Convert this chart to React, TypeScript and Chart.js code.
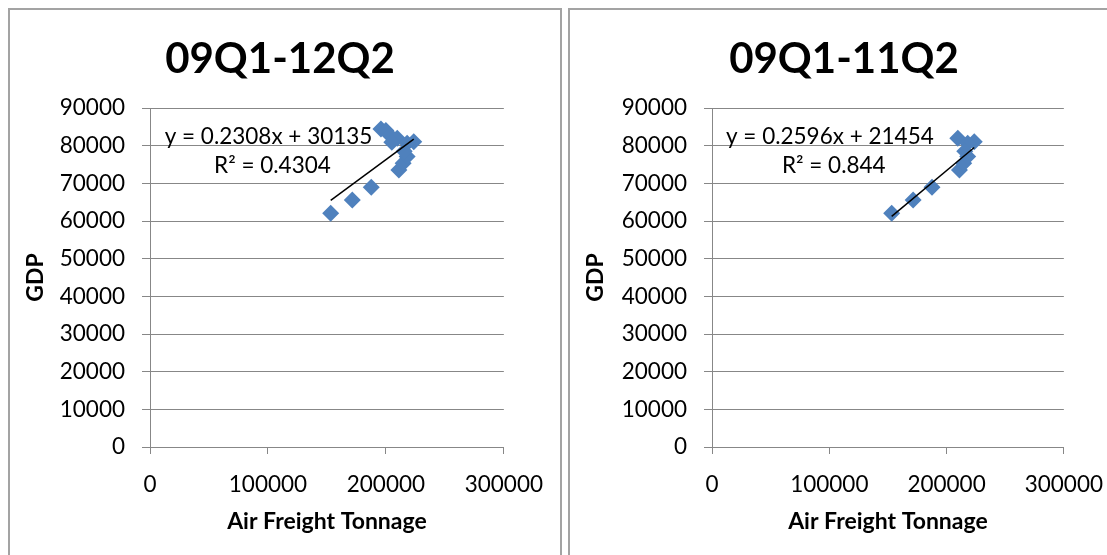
import React, { useEffect, useRef } from "react";
import { Chart, registerables } from "chart.js";

Chart.register(...registerables);

// 09Q1 - 11Q2 (shared by both panels)
const FREIGHT_09Q1_11Q2 = [153200, 171500, 187600, 211000, 214600, 218000, 223600, 209600, 218000, 215500];
const GDP_09Q1_11Q2 = [62050, 65600, 68950, 73540, 75300, 77100, 81060, 81950, 80630, 78500];
// 11Q3 - 12Q2 (only in the left panel)
const FREIGHT_11Q3_12Q2 = [195800, 200000, 203500, 205000];
const GDP_11Q3_12Q2 = [84400, 84000, 82700, 80900];

const X_TICKS = [0, 100000, 200000, 300000];
const Y_TICKS = [0, 10000, 20000, 30000, 40000, 50000, 60000, 70000, 80000, 90000];

const LEFT_TREND = [0.2308, 30135];
const RIGHT_TREND = [0.2596, 21454];
const LEFT_TEXTS = ["09Q1-12Q2", "y = 0.2308x + 30135", "R\u00B2 = 0.4304"];
const RIGHT_TEXTS = ["09Q1-11Q2", "y = 0.2596x + 21454", "R\u00B2 = 0.844"];

const BLUE = "#4f81bd";
const GRID = "#878787";
const FONT = "Lato";

type PanelProps = {
  xs: number[];
  ys: number[];
  trend: number[];
  texts: string[];
  left: number;
  yAxisWidth: number;
  padRight: number;
  titleX: number;
};

function Panel({ xs, ys, trend, texts, left, yAxisWidth, padRight, titleX }: PanelProps) {
  const ref = useRef<HTMLCanvasElement | null>(null);

  useEffect(() => {
    if (!ref.current) return;
    const points = xs.map((x, i) => ({ x, y: ys[i] }));
    const minX = Math.min(...xs);
    const maxX = Math.max(...xs);
    const [slope, intercept] = trend;
    const trendPts = [
      { x: minX, y: slope * minX + intercept },
      { x: maxX, y: slope * maxX + intercept },
    ];

    const labelPlugin = {
      id: "trendLabel",
      beforeDatasetsDraw(chart: any) {
        const { ctx, scales } = chart;
        ctx.save();
        ctx.fillStyle = "#000";
        ctx.font = `22.5px ${FONT}`;
        ctx.textAlign = "center";
        ctx.textBaseline = "alphabetic";
        ctx.fillText(texts[1], scales.x.getPixelForValue(100500), scales.y.getPixelForValue(80370));
        ctx.fillText(texts[2], scales.x.getPixelForValue(103800), scales.y.getPixelForValue(72670));
        ctx.restore();
      },
      afterDraw(chart: any) {
        const { ctx } = chart;
        ctx.save();
        ctx.fillStyle = "#000";
        ctx.font = `bold 42px ${FONT}`;
        ctx.textAlign = "center";
        ctx.textBaseline = "middle";
        ctx.fillText(texts[0], titleX, 49);
        ctx.restore();
      },
    };

    const chart = new Chart(ref.current, {
      type: "scatter",
      data: {
        datasets: [
          {
            type: "line",
            data: trendPts,
            borderColor: "#000",
            borderWidth: 1.5,
            pointRadius: 0,
            fill: false,
            order: 0,
          } as any,
          {
            type: "scatter",
            data: points,
            pointStyle: "rectRot",
            pointRadius: 8.5,
            backgroundColor: BLUE,
            borderColor: BLUE,
            borderWidth: 0,
            order: 1,
          },
        ],
      },
      options: {
        animation: false,
        responsive: false,
        events: [],
        layout: { padding: { left: 0, right: padRight, top: 98, bottom: 0 } },
        plugins: {
          legend: { display: false },
          tooltip: { enabled: false },
          title: { display: false },
        },
        scales: {
          x: {
            type: "linear",
            min: 0,
            max: 300000,
            afterBuildTicks: (s: any) => {
              s.ticks = X_TICKS.map((v) => ({ value: v }));
            },
            afterFit: (s: any) => {
              s.height = 108;
            },
            ticks: {
              callback: (v: any) => String(v),
              color: "#000",
              font: { family: FONT, size: 22.5 },
              padding: 17,
              maxRotation: 0,
            },
            grid: { drawOnChartArea: false, tickLength: 7, color: GRID, lineWidth: 1 },
            border: { display: true, color: GRID, width: 1 },
            title: {
              display: true,
              text: "Air Freight Tonnage",
              color: "#000",
              font: { family: FONT, size: 23, weight: "bold" },
              padding: { top: 0, bottom: 20 },
            },
          },
          y: {
            type: "linear",
            min: 0,
            max: 90000,
            afterBuildTicks: (s: any) => {
              s.ticks = Y_TICKS.map((v) => ({ value: v }));
            },
            afterFit: (s: any) => {
              s.width = yAxisWidth;
            },
            ticks: {
              callback: (v: any) => String(v),
              color: "#000",
              font: { family: FONT, size: 22.5 },
              padding: 17,
            },
            grid: { tickLength: 8, color: GRID, lineWidth: 1 },
            border: { display: true, color: GRID, width: 1 },
            title: {
              display: true,
              text: "GDP",
              color: "#000",
              font: { family: FONT, size: 23, weight: "bold" },
              padding: { top: 12, bottom: 0 },
            },
          },
        },
      },
      plugins: [labelPlugin],
    });
    return () => chart.destroy();
  }, [xs, ys, trend, texts, yAxisWidth, padRight, titleX]);

  return (
    <canvas
      ref={ref}
      width={550}
      height={545}
      style={{ position: "absolute", left, top: 10, width: 550, height: 545 }}
    />
  );
}

const LEFT_XS = [...FREIGHT_09Q1_11Q2, ...FREIGHT_11Q3_12Q2];
const LEFT_YS = [...GDP_09Q1_11Q2, ...GDP_11Q3_12Q2];

export default function App() {
  const box: React.CSSProperties = {
    position: "absolute",
    top: 8,
    height: 620,
    border: "2px solid #a3a3a3",
    boxSizing: "border-box",
    background: "#fff",
  };
  return (
    <div
      style={{
        position: "fixed",
        left: 0,
        top: 0,
        width: 1107,
        height: 555,
        overflow: "hidden",
        background: "#fff",
      }}
    >
      <div style={{ ...box, left: 8, width: 554 }} />
      <div style={{ ...box, left: 568, width: 620 }} />
      <Panel xs={LEFT_XS} ys={LEFT_YS} trend={LEFT_TREND} texts={LEFT_TEXTS} left={10} yAxisWidth={140} padRight={55} titleX={270} />
      <Panel xs={FREIGHT_09Q1_11Q2} ys={GDP_09Q1_11Q2} trend={RIGHT_TREND} texts={RIGHT_TEXTS} left={570} yAxisWidth={142} padRight={53} titleX={274} />
    </div>
  );
}
